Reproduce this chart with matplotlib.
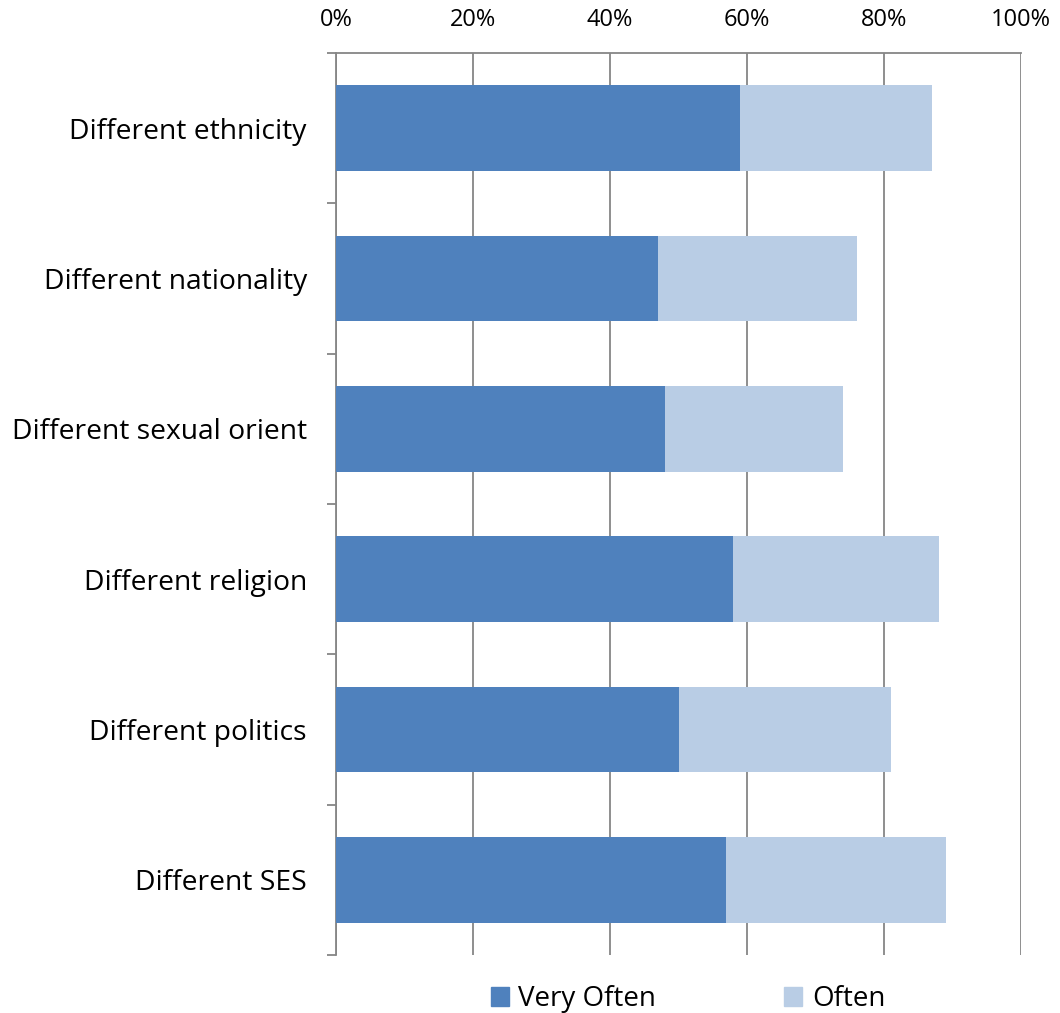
import numpy as np
import matplotlib.pyplot as plt
from matplotlib.patches import Patch

# data (percent)
categories = ["Different ethnicity", "Different nationality", "Different sexual orient",
              "Different religion", "Different politics", "Different SES"]
very_often = [59, 47, 48, 58, 50, 57]
often = [28, 29, 26, 30, 31, 32]
series_names = ["Very Often", "Often"]
x_ticks = [0, 20, 40, 60, 80, 100]

dark = "#4F81BD"
light = "#B9CDE5"
grey = "#868686"

plt.rcParams["font.family"] = ["Open Sans", "DejaVu Sans"]

fig = plt.figure(figsize=(10.6, 10.13), dpi=100)
ax = fig.add_axes([336 / 1060, 1 - 955 / 1013, 685 / 1060, 902 / 1013])

y = np.arange(len(categories))
ax.barh(y, very_often, height=0.57, color=dark, zorder=3)
ax.barh(y, often, left=very_often, height=0.57, color=light, zorder=3)

ax.set_xlim(0, 100)
ax.set_ylim(len(categories) - 0.5, -0.5)

# x axis on top, no tick marks
ax.xaxis.tick_top()
ax.set_xticks(x_ticks)
ax.set_xticklabels([f"{t}%" for t in x_ticks])
ax.tick_params(axis="x", length=0, pad=15, labelsize=17)
ax.grid(axis="x", color=grey, linewidth=1.3, zorder=0)

# category boundaries get tick marks, labels sit on minor ticks
ax.set_yticks(np.arange(len(categories) + 1) - 0.5)
ax.set_yticklabels([])
ax.set_yticks(y, minor=True)
ax.set_yticklabels(categories, minor=True)
ax.tick_params(axis="y", which="major", length=6.5, width=1.3, color=grey)
ax.tick_params(axis="y", which="minor", length=0, pad=21, labelsize=20.3)

for side in ["right", "bottom"]:
    ax.spines[side].set_visible(False)
for side in ["left", "top"]:
    ax.spines[side].set_color(grey)
    ax.spines[side].set_linewidth(1.3)

handles = [Patch(color=dark), Patch(color=light)]
fig.legend(handles, series_names, loc="center", bbox_to_anchor=(688 / 1060, 1 - 999 / 1013),
           ncol=2, frameon=False, fontsize=20, handlelength=0.65, handleheight=0.65,
           handletextpad=0.35, columnspacing=4.6)

fig.savefig("out.png", dpi=100)
